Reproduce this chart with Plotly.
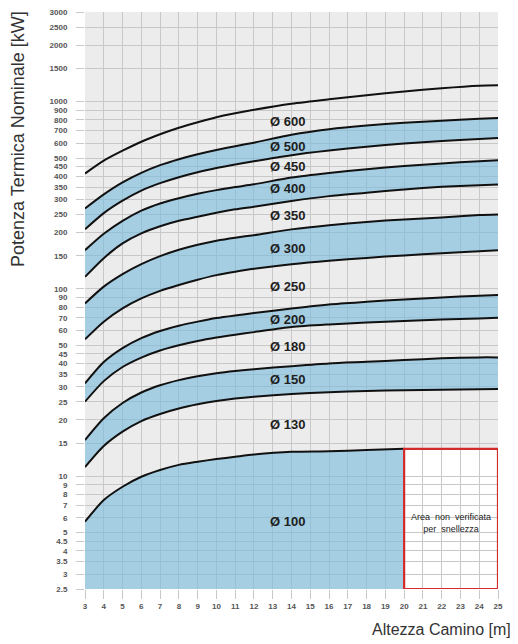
import plotly.graph_objects as go
import math

# ---- data ----
x_pts = [3, 4, 5, 6, 7, 8, 9, 10, 11, 12, 14, 16, 18, 20, 22, 24, 25]

curve_600_top = [413, 484, 547, 611, 670, 726, 776, 826, 867, 905, 975, 1030, 1082, 1132, 1179, 1216, 1223]
curve_500_top = [269, 320, 371, 417, 458, 493, 524, 552, 578, 604, 666, 713, 746, 771, 791, 811, 819]
curve_450_top = [208, 254, 296, 335, 367, 395, 420, 442, 462, 481, 518, 548, 575, 598, 617, 632, 640]
curve_400_top = [161, 197, 231, 262, 286, 305, 322, 337, 350, 362, 393, 416, 436, 453, 468, 481, 487]
curve_350_top = [116, 146, 175, 198, 216, 231, 243, 255, 266, 275, 295, 313, 326, 340, 351, 358, 361]
curve_300_top = [83.7, 102.9, 120, 135.7, 149.7, 162, 172.3, 181, 187.8, 193.7, 208, 219, 228, 235, 241, 248, 250]
curve_250_top = [53.8, 66.8, 78.7, 89, 97.7, 105, 112, 118.5, 123.5, 128, 135.5, 141.5, 146.5, 151, 155, 159, 161]
curve_200_top = [31.3, 40.7, 48.3, 54.6, 59.6, 63.6, 66.9, 69.9, 72.2, 74.3, 78.7, 82.7, 85.4, 87.9, 90.1, 91.9, 92.7]
curve_180_top = [25.0, 32.2, 38.3, 43.0, 46.9, 50.0, 52.7, 55.0, 57.0, 58.8, 62.6, 64.6, 66.1, 67.4, 68.6, 69.5, 70.1]
curve_150_top = [15.6, 20.4, 24.6, 28.0, 30.6, 32.6, 34.2, 35.5, 36.5, 37.3, 38.7, 40.0, 40.8, 41.7, 42.6, 43.1, 43.1]
curve_130_top = [11.2, 14.5, 17.3, 19.7, 21.5, 23.0, 24.2, 25.2, 26.0, 26.6, 27.5, 28.1, 28.5, 28.8, 29.0, 29.1, 29.2]

x_100 = [3, 4, 5, 6, 7, 8, 9, 10, 11, 12, 14, 16, 18, 20]
curve_100_top = [5.72, 7.46, 8.79, 9.94, 10.8, 11.5, 11.95, 12.35, 12.7, 13.05, 13.5, 13.6, 13.8, 14.0]

y_min, y_max = 2.5, 3000

curves = [curve_600_top, curve_500_top, curve_450_top, curve_400_top, curve_350_top,
          curve_300_top, curve_250_top, curve_200_top, curve_180_top, curve_150_top,
          curve_130_top]

diam_labels = ["Ø 600", "Ø 500", "Ø 450", "Ø 400", "Ø 350", "Ø 300",
               "Ø 250", "Ø 200", "Ø 180", "Ø 150", "Ø 130", "Ø 100"]
label_x = 13.8
label_y = [767, 564, 441, 337, 242, 161, 101, 67.3, 48.3, 32.2, 18.5, 5.63]

y_ticks = [2.5, 3, 3.5, 4, 4.5, 5, 6, 7, 8, 9, 10, 15, 20, 25, 30, 35, 40, 45, 50,
           60, 70, 80, 90, 100, 150, 200, 250, 300, 350, 400, 450, 500, 600, 700,
           800, 900, 1000, 1500, 2000, 2500, 3000]
x_ticks = list(range(3, 26))

box_x = [20, 25]
box_y = [2.5, 14.0]

# ---- styling ----
BLUE = "rgba(118,186,222,0.6)"
GRID = "#c8c8c8"
BG = "#ececec"
FONT = "Liberation Sans"
SPL = dict(shape="spline", smoothing=0.7)

fig = go.Figure()

# blue bands: (upper curve index, lower curve index)
blue_pairs = [(1, 2), (3, 4), (5, 6), (7, 8), (9, 10)]
for up, lo in blue_pairs:
    fig.add_trace(go.Scatter(x=x_pts, y=curves[up], mode="lines",
                             line=dict(width=0, **SPL),
                             hoverinfo="skip", showlegend=False))
    fig.add_trace(go.Scatter(x=x_pts, y=curves[lo], mode="lines",
                             line=dict(width=0, **SPL),
                             fill="tonexty", fillcolor=BLUE,
                             hoverinfo="skip", showlegend=False))

# Ø100 band down to the axis bottom
fig.add_trace(go.Scatter(x=x_100, y=curve_100_top, mode="lines",
                         line=dict(width=0, **SPL),
                         hoverinfo="skip", showlegend=False))
fig.add_trace(go.Scatter(x=x_100, y=[y_min] * len(x_100), mode="lines",
                         line=dict(width=0),
                         fill="tonexty", fillcolor=BLUE,
                         hoverinfo="skip", showlegend=False))

# black curve lines
for c in curves:
    fig.add_trace(go.Scatter(x=x_pts, y=c, mode="lines",
                             line=dict(color="#111111", width=2, **SPL),
                             hoverinfo="skip", showlegend=False))
fig.add_trace(go.Scatter(x=x_100, y=curve_100_top, mode="lines",
                         line=dict(color="#111111", width=2, **SPL),
                         hoverinfo="skip", showlegend=False))

# diameter labels
fig.add_trace(go.Scatter(x=[label_x] * len(label_y), y=label_y, mode="text",
                         text=diam_labels,
                         textfont=dict(family=FONT, size=13, color="#1e1e1e", weight="bold"),
                         hoverinfo="skip", showlegend=False))

# white "not verified" area with red border
fig.add_shape(type="rect", xref="x", yref="y",
              x0=box_x[0], x1=box_x[1], y0=box_y[0], y1=box_y[1],
              fillcolor="white", line=dict(width=0), layer="below")
fig.add_shape(type="rect", xref="x", yref="y",
              x0=box_x[0], x1=box_x[1], y0=box_y[0], y1=box_y[1],
              fillcolor="rgba(0,0,0,0)", line=dict(color="#d42a2a", width=2.2), layer="above")
fig.add_annotation(x=(box_x[0] + box_x[1]) / 2, y=math.log10(5.6), xref="x", yref="y",
                   text="Area  non  verificata<br>per  snellezza", showarrow=False,
                   font=dict(family=FONT, size=9, color="#222222"), align="center")

fig.update_xaxes(range=[3, 25], tickvals=x_ticks, ticktext=[str(v) for v in x_ticks],
                 showgrid=True, gridcolor=GRID, gridwidth=1, zeroline=False,
                 ticks="outside", ticklen=9, tickcolor=GRID, tickwidth=1,
                 tickfont=dict(family=FONT, size=8, color="#555555", weight="bold"),
                 ticklabeloverflow="allow", automargin=False, showline=False)
fig.update_yaxes(type="log", range=[math.log10(y_min), math.log10(y_max) + 0.0015],
                 tickvals=y_ticks, ticktext=[("%g" % v) for v in y_ticks],
                 showgrid=True, gridcolor=GRID, gridwidth=1, zeroline=False,
                 ticks="outside", ticklen=8, tickcolor=GRID, tickwidth=1,
                 ticklabelstandoff=7, ticklabeloverflow="allow", automargin=False,
                 tickfont=dict(family=FONT, size=8, color="#555555", weight="bold"),
                 showline=False)

# page has an 8px body margin: plot area spans page x 85..498, y 12..589
fig.add_annotation(text="Potenza Termica Nominale [kW]", xref="paper", yref="paper",
                   x=(18 - 85) / 413, y=(589 - 9) / 577, xanchor="center", yanchor="top",
                   textangle=-90, showarrow=False,
                   font=dict(family=FONT, size=18, color="#333333"))
fig.add_annotation(text="Altezza Camino [m]", xref="paper", yref="paper",
                   x=(513 - 85) / 413, y=(589 - 629) / 577, xanchor="right", yanchor="middle",
                   showarrow=False, font=dict(family=FONT, size=16, color="#333333"))

fig.update_layout(width=510, height=636,
                  margin=dict(l=77, r=20, t=4, b=55),
                  plot_bgcolor=BG, paper_bgcolor="white",
                  showlegend=False)

fig.write_html("out.html")
